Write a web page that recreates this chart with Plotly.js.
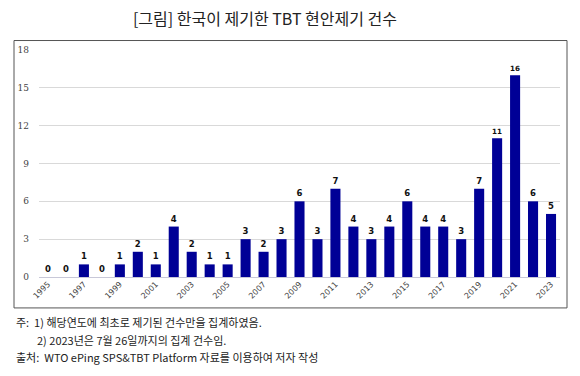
<!DOCTYPE html>
<html>
<head>
<meta charset="utf-8">
<script src="https://cdn.plot.ly/plotly-3.0.1.min.js"></script>
<style>
html,body{margin:0;padding:0;background:#fff;}
#chart{width:580px;height:376px;}
</style>
</head>
<body>
<div id="chart"></div>
<script>
const years = ['1995','1996','1997','1998','1999','2000','2001','2002','2003','2004','2005','2006','2007','2008','2009','2010','2011','2012','2013','2014','2015','2016','2017','2018','2019','2020','2021','2022','2023'];
const counts = [0,0,1,0,1,2,1,4,2,1,1,3,2,3,6,3,7,4,3,4,6,4,4,3,7,11,16,6,5];
const tickYears = ['1995','1997','1999','2001','2003','2005','2007','2009','2011','2013','2015','2017','2019','2021','2023'];
const titleText = '[그림] 한국이 제기한 TBT 현안제기 건수';
const noteLines = [
  '주:  1) 해당연도에 최초로 제기된 건수만을 집계하였음.',
  '2) 2023년은 7월 26일까지의 집계 건수임.',
  '출처:  WTO ePing SPS&TBT Platform 자료를 이용하여 저자 작성'
];

const L = 39, R = 20, T = 49.5, B = 99;
const W = 580, H = 376;
const pw = W - L - R, ph = H - T - B;
const px = x => (x - L) / pw;
const py = y => (H - B - y) / ph;

const trace = {
  type: 'bar',
  x: years,
  y: counts,
  marker: {color: '#000096'},
  width: 0.56,
  text: counts.map(String),
  textposition: 'outside',
  textfont: {family: 'DejaVu Sans', size: 8.5, color: '#111', weight: 'bold'},
  cliponaxis: false,
  hoverinfo: 'none'
};

const layout = {
  width: W, height: H,
  margin: {l: L, r: R, t: T, b: B},
  paper_bgcolor: '#fff', plot_bgcolor: '#fff',
  showlegend: false,
  bargap: 0.44,
  title: {
    text: titleText,
    font: {family: 'Noto Sans CJK KR', size: 16, color: '#222'},
    x: 265 / W, xanchor: 'center', xref: 'container',
    y: 1 - 19 / H, yanchor: 'middle', yref: 'container'
  },
  xaxis: {
    type: 'category',
    tickmode: 'array', tickvals: tickYears, ticktext: tickYears,
    tickangle: -45,
    tickfont: {family: 'DejaVu Sans', size: 8, color: '#444'},
    showgrid: false, showline: false, ticks: '',
    automargin: false
  },
  yaxis: {
    range: [0, 18], dtick: 3, tick0: 0,
    tickfont: {family: 'DejaVu Serif', size: 9, color: '#444'},
    gridcolor: '#d9d9d9', gridwidth: 1,
    zeroline: true, zerolinecolor: '#c8c8d8', zerolinewidth: 1,
    ticks: '', ticklabelstandoff: 9,
    automargin: false
  },
  shapes: [{
    type: 'rect', xref: 'paper', yref: 'paper',
    x0: px(14), x1: px(567), y0: py(308), y1: py(40),
    line: {color: '#555', width: 1}, fillcolor: 'rgba(0,0,0,0)', layer: 'below'
  }],
  annotations: [
    {text: noteLines[0], x: px(14), y: py(322), xanchor: 'left', yanchor: 'middle'},
    {text: noteLines[1], x: px(35), y: py(340), xanchor: 'left', yanchor: 'middle'},
    {text: noteLines[2], x: px(14), y: py(357), xanchor: 'left', yanchor: 'middle'}
  ].map(a => Object.assign(a, {
    xref: 'paper', yref: 'paper', showarrow: false,
    font: {family: 'Noto Sans CJK KR', size: 11, color: '#222'}
  }))
};

Plotly.newPlot('chart', [trace], layout, {displayModeBar: false, staticPlot: true});
</script>
</body>
</html>
